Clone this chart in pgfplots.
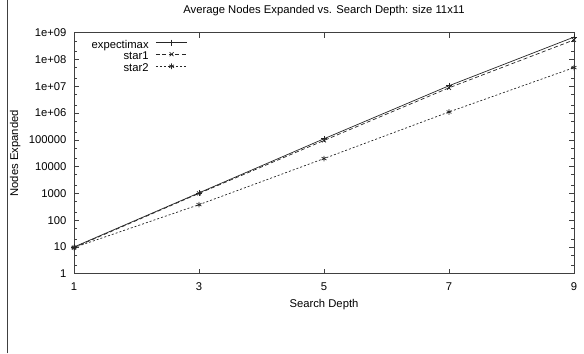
\documentclass[border=0pt]{standalone}
\usepackage{pgfplots}
\pgfplotsset{compat=1.18}
\usepackage{fontspec}
\setmainfont{Liberation Sans}
\begin{document}
\begin{tikzpicture}[x=1bp,y=1bp]
\path (0,0) rectangle (584,353);
\draw[black!75, line width=0.9bp] (7.3,0) -- (7.3,353);
\begin{axis}[
  at={(74bp,79.7bp)}, anchor=south west,
  scale only axis, width=500bp, height=241bp,
  ymode=log, xmin=1, xmax=9, ymin=1, ymax=1e9,
  xtick={1,3,5,7,9}, xticklabels={1,3,5,7,9},
  ytick={1,10,100,1000,10000,100000,1e6,1e7,1e8,1e9},
  yticklabels={1,10,100,1000,10000,100000,1e+06,1e+07,1e+08,1e+09},
  minor ytick={2,5,20,50,200,500,2000,5000,2e4,5e4,2e5,5e5,2e6,5e6,2e7,5e7,2e8,5e8},
  tick align=inside,
  major tick length=5bp, minor tick length=3bp,
  axis line style={black!75, line width=0.7bp},
  every tick/.style={black!75, line width=0.6bp},
  tick label style={font=\fontsize{11.3}{13}\selectfont, inner sep=0pt},
  /pgf/number format/assume math mode=true,
  xticklabel style={anchor=base, yshift=-17bp},
  yticklabel style={anchor=east, xshift=-7.3bp},
  title={Average Nodes Expanded vs. Search Depth: size 11x11},
  title style={font=\fontsize{11.3}{13}\selectfont, at={(0.5,1)}, anchor=base, yshift=13.5bp, inner sep=0pt},
  xlabel={Search Depth},
  xlabel style={font=\fontsize{11.3}{13}\selectfont, at={(0.5,0)}, anchor=base, yshift=-34bp, inner sep=0pt},
  ylabel={Nodes Expanded},
  ylabel style={font=\fontsize{11.3}{13}\selectfont, at={(0,0.5)}, anchor=base, yshift=56bp, inner sep=0pt},
  legend style={at={(rel axis cs:0.035,0.972)}, anchor=north west, draw=none, fill=none,
    font=\fontsize{11.3}{13}\selectfont, row sep=1bp, column sep=7bp, inner sep=0pt,
    nodes={inner sep=0pt, text height=8bp, text depth=2.5bp}},
  legend cell align=right,
  legend plot pos=right,
  legend image code/.code={\draw[mark repeat=2,mark phase=2] plot coordinates {(0bp,3bp) (15.6bp,3bp) (31.3bp,3bp)};},
]
\addplot[black!85, line width=0.7bp, mark=+, mark size=3bp, mark options={solid}]
  coordinates {(1,10) (3,1050) (5,110000) (7,1.05e7) (9,6.9e8)};
\addlegendentry{expectimax}
\addplot[black!85, line width=0.7bp, dash pattern=on 4bp off 2.5bp, mark=x, mark size=2.8bp, mark options={solid}]
  coordinates {(1,9.5) (3,1000) (5,95000) (7,8.8e6) (9,5.4e8)};
\addlegendentry{star1}
\addplot[black!85, line width=0.7bp, dash pattern=on 2bp off 2bp, mark=asterisk, mark size=2.8bp, mark options={solid}]
  coordinates {(1,9.5) (3,380) (5,20000) (7,1.1e6) (9,5e7)};
\addlegendentry{star2}
\end{axis}
\end{tikzpicture}
\end{document}
